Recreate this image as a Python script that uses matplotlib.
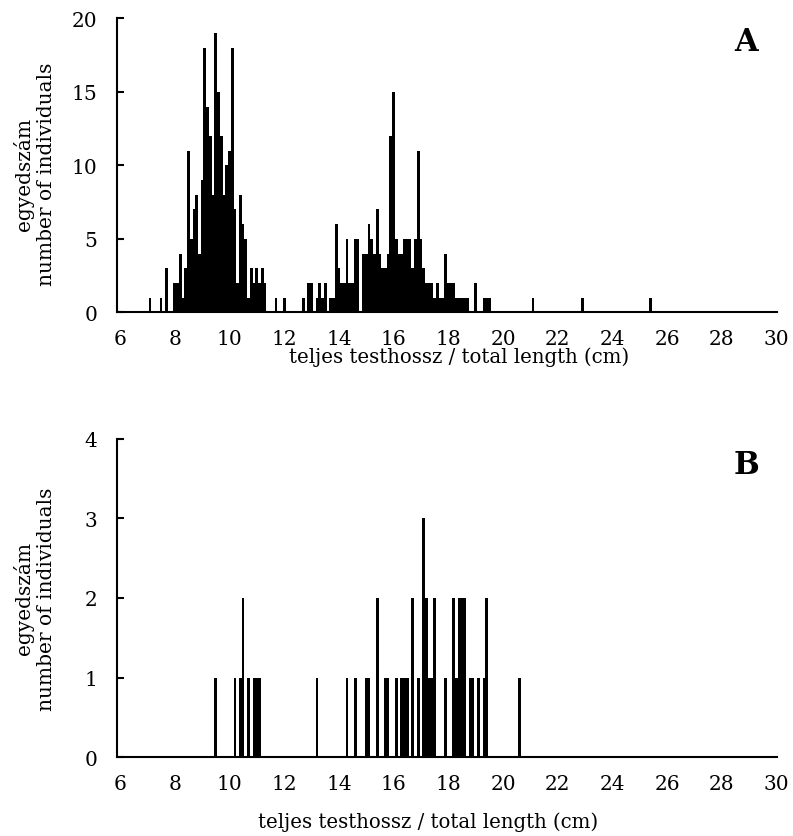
import matplotlib
matplotlib.use("Agg")
import matplotlib.pyplot as plt

# A panel: body length (cm, 0.1 cm classes) and number of individuals
length_a = [7.1, 7.5, 7.7, 8.0, 8.1, 8.2, 8.3, 8.4, 8.5, 8.6, 8.7, 8.8, 8.9,
            9.0, 9.1, 9.2, 9.3, 9.4, 9.5, 9.6, 9.7, 9.8, 9.9, 10.0, 10.1,
            10.2, 10.3, 10.4, 10.5, 10.6, 10.7, 10.8, 10.9, 11.0, 11.1, 11.2,
            11.3, 11.7, 12.0, 12.7, 12.9, 13.0, 13.2, 13.3, 13.4, 13.5, 13.7,
            13.8, 13.9, 14.0, 14.1, 14.2, 14.3, 14.4, 14.5, 14.6, 14.7, 14.9,
            15.0, 15.1, 15.2, 15.3, 15.4, 15.5, 15.6, 15.7, 15.8, 15.9, 16.0,
            16.1, 16.2, 16.3, 16.4, 16.5, 16.6, 16.7, 16.8, 16.9, 17.0, 17.1,
            17.2, 17.3, 17.4, 17.5, 17.6, 17.7, 17.8, 17.9, 18.0, 18.1, 18.2,
            18.3, 18.4, 18.5, 18.6, 18.7, 19.0, 19.3, 19.4, 19.5, 21.1, 22.9,
            25.4]
count_a = [1, 1, 3, 2, 2, 4, 1, 3, 11, 5, 7, 8, 4,
           9, 18, 14, 12, 8, 19, 15, 12, 8, 10, 11, 18,
           7, 2, 8, 6, 5, 1, 3, 2, 3, 2, 3,
           2, 1, 1, 1, 2, 2, 1, 2, 1, 2, 1,
           1, 6, 3, 2, 2, 5, 2, 2, 5, 5, 4,
           4, 6, 5, 4, 7, 4, 3, 3, 4, 12, 15,
           5, 4, 4, 5, 5, 5, 3, 5, 11, 5, 3,
           2, 2, 2, 1, 2, 1, 1, 4, 2, 2, 2,
           1, 1, 1, 1, 1, 2, 1, 1, 1, 1, 1,
           1]

# B panel
length_b = [9.5, 10.2, 10.4, 10.5, 10.7, 10.9, 11.0, 11.1, 13.2, 14.3, 14.6,
            15.0, 15.1, 15.4, 15.7, 15.8, 16.1, 16.3, 16.4, 16.5, 16.7, 16.9,
            17.1, 17.2, 17.3, 17.4, 17.5, 17.9, 18.2, 18.3, 18.4, 18.5, 18.6,
            18.8, 18.9, 19.1, 19.3, 19.4, 20.6]
count_b = [1, 1, 1, 2, 1, 1, 1, 1, 1, 1, 1,
           1, 1, 2, 1, 1, 1, 1, 1, 1, 2, 1,
           3, 2, 1, 1, 2, 1, 2, 1, 2, 2, 2,
           1, 1, 1, 1, 2, 1]

x_ticks = list(range(6, 31, 2))
xlabel = "teljes testhossz / total length (cm)"
ylabel = "egyedszám\nnumber of individuals"

plt.rcParams['font.family'] = ['DejaVu Serif']

fig = plt.figure(figsize=(7.93, 8.37), dpi=100)
ax_a = fig.add_axes([117 / 793, 1 - 313.3 / 837, 659.6 / 793, 294 / 837])
ax_b = fig.add_axes([117 / 793, 1 - 758.3 / 837, 659.6 / 793, 318.8 / 837])

# ax, lengths, counts, ymax, yticks, tag, xlabel pos (x, y), ylabel y pos
panels = [
    (ax_a, length_a, count_a, 20, [0, 5, 10, 15, 20], "A", (0.5185, -0.115), 0.473),
    (ax_b, length_b, count_b, 4, [0, 1, 2, 3, 4], "B", (0.4715, -0.17), 0.5),
]

for ax, xs, ys, ymax, yticks, tag, xl_pos, yl_y in panels:
    ax.bar(xs, ys, width=0.1, color="black", linewidth=0)
    ax.set_xlim(5.89, 30.0)
    ax.set_ylim(0, ymax)
    ax.set_xticks(x_ticks)
    ax.set_yticks(yticks)
    ax.spines['top'].set_visible(False)
    ax.spines['right'].set_visible(False)
    ax.spines['left'].set_linewidth(1.5)
    ax.spines['bottom'].set_linewidth(1.5)
    ax.tick_params(axis='x', length=0, pad=12, labelsize=14.5)
    ax.tick_params(axis='y', direction='in', length=5, width=1.5, pad=14,
                   labelsize=14.5)
    ax.set_xlabel(xlabel, fontsize=14.2)
    ax.xaxis.set_label_coords(*xl_pos)
    ax.set_ylabel(ylabel, fontsize=14.5, linespacing=1.2)
    ax.yaxis.set_label_coords(-0.092, yl_y)
    ax.text(0.954, 0.92, tag, transform=ax.transAxes, fontsize=22,
            fontweight='bold', ha='center', va='center')

fig.savefig("out.png", dpi=100)
